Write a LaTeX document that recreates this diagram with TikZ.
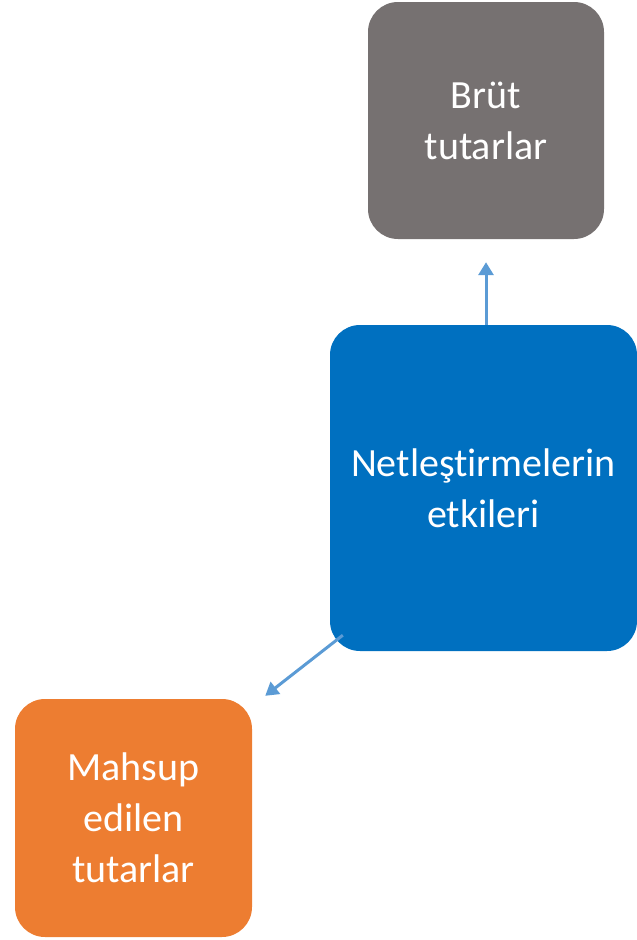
\documentclass[tikz,border=0pt]{standalone}
\usepackage{fontspec}
\setmainfont{Carlito}[Ligatures=NoCommon]
\usetikzlibrary{positioning,arrows.meta,calc}
\definecolor{boxgray}{RGB}{118,113,113}
\definecolor{boxblue}{RGB}{0,112,192}
\definecolor{boxorange}{RGB}{237,125,49}
\definecolor{linkblue}{RGB}{91,155,213}

\begin{document}
\begin{tikzpicture}[x=1pt,y=-1pt,
    box/.style={rounded corners=30pt,inner sep=0pt,align=center,text=white,
      font=\fontsize{40}{51}\selectfont},
    link/.style={draw=linkblue,line width=3pt,-{Triangle[length=13pt,width=15pt]}}]
  \useasboundingbox (0,0) rectangle (637,940);
  \node[box,fill=boxgray,minimum width=236pt,minimum height=237pt] (brut) at (486,120.5) {Brüt\\tutarlar};
  \node[box,fill=boxblue,minimum width=307pt,minimum height=326pt] (net) at (483.5,488) {Netleştirmelerin\\etkileri};
  \node[box,fill=boxorange,minimum width=237pt,minimum height=238pt] (mahsup) at (133.5,818) {Mahsup\\edilen\\tutarlar};
  % connectors
  \coordinate (netfoot) at ($(net.south west)+(13,-16)$);
  \coordinate (mahsuptip) at ($(mahsup.north east)+(13,-3)$);
  \draw[link,shorten >=23pt] (net.north -| brut.south) -- (brut.south);
  \draw[link] (netfoot) -- (mahsuptip);
\end{tikzpicture}
\end{document}
